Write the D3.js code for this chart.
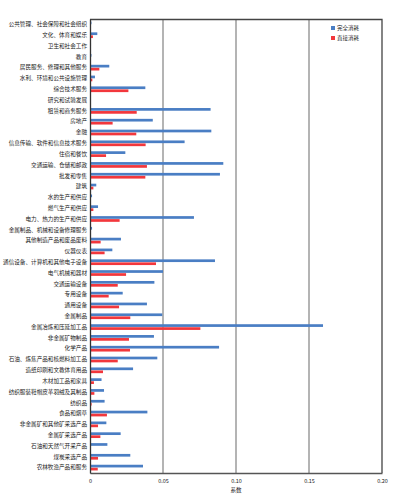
<!DOCTYPE html>
<html>
<head>
<meta charset="utf-8">
<script src="https://cdn.jsdelivr.net/npm/d3@7"></script>
<style>
  body { margin: 0; background: #fff; }
  text { font-family: "Noto Sans CJK SC", sans-serif; }
</style>
</head>
<body>
<svg id="vis" width="396" height="494"></svg>
<script>
// categories, top to bottom
const categories = [
  "公共管理、社会保障和社会组织", "文化、体育和娱乐", "卫生和社会工作", "教育",
  "居民服务、修理和其他服务", "水利、环境和公共设施管理", "综合技术服务", "研究和试验发展",
  "租赁和商务服务", "房地产", "金融", "信息传输、软件和信息技术服务", "住宿和餐饮",
  "交通运输、仓储和邮政", "批发和零售", "建筑", "水的生产和供应", "燃气生产和供应",
  "电力、热力的生产和供应", "金属制品、机械和设备修理服务", "其他制造产品和废品废料",
  "仪器仪表", "通信设备、计算机和其他电子设备", "电气机械和器材", "交通运输设备",
  "专用设备", "通用设备", "金属制品", "金属冶炼和压延加工品", "非金属矿物制品",
  "化学产品", "石油、炼焦产品和核燃料加工品", "造纸印刷和文教体育用品", "木材加工品和家具",
  "纺织服装鞋帽皮革羽绒及其制品", "纺织品", "食品和烟草", "非金属矿和其他矿采选产品",
  "金属矿采选产品", "石油和天然气开采产品", "煤炭采选产品", "农林牧渔产品和服务"
];

// 完全消耗
const totalValues = [
  0.001, 0.005, 0.0007, 0.001, 0.0132, 0.0034, 0.0379, 0,
  0.0826, 0.043, 0.0831, 0.0648, 0.0242, 0.0913, 0.089, 0.0043,
  0.0014, 0.0055, 0.0712, 0.0014, 0.0212, 0.0153, 0.0856, 0.05,
  0.0441, 0.0224, 0.039, 0.0495, 0.1596, 0.0438, 0.0884, 0.0461,
  0.0295, 0.0079, 0.0096, 0.01, 0.0393, 0.0112, 0.021, 0.0119,
  0.0276, 0.0363
];

// 直接消耗
const directValues = [
  0.0005, 0.002, 0.0003, 0.0004, 0.0064, 0.0016, 0.0263, 0,
  0.032, 0.0155, 0.0317, 0.0381, 0.011, 0.039, 0.0379, 0.0023,
  0.0005, 0.0023, 0.0203, 0.0005, 0.0073, 0.01, 0.0452, 0.0247,
  0.019, 0.0128, 0.0199, 0.0276, 0.0756, 0.0267, 0.0274, 0.019,
  0.0089, 0.0027, 0.003, 0.0011, 0.0116, 0.0055, 0.0071, 0.0003,
  0.0055, 0.0053
];

const seriesNames = ["完全消耗", "直接消耗"];
const xTicks = [0, 0.05, 0.10, 0.15, 0.20];
const xLabel = "系数";

const COLOURS = ["#4a7ec4", "#f2373c"];
const MARGINS = {top: 19, right: 14, bottom: 21, left: 90};
const width = 396, height = 494;

const svg = d3.select("#vis");

const x = d3.scaleLinear()
    .domain([0, 0.2])
    .range([MARGINS.left, width - MARGINS.right]);

const y = d3.scaleBand()
    .domain(categories)
    .range([MARGINS.top, height - MARGINS.bottom]);

const ySub = d3.scaleBand()
    .domain(seriesNames)
    .range([0, y.bandwidth()])
    .paddingOuter(0.85)
    .paddingInner(0.1);

// grid lines
svg.append("g")
    .selectAll("line")
    .data(xTicks.slice(1, -1))
    .enter()
    .append("line")
    .attr("x1", d => x(d)).attr("x2", d => x(d))
    .attr("y1", MARGINS.top).attr("y2", height - MARGINS.bottom)
    .attr("stroke", "#8c8c8c")
    .attr("stroke-width", 1.3);

// bars
const rows = categories.map((c, i) => ({cat: c, vals: [totalValues[i], directValues[i]]}));

const groups = svg.append("g")
    .selectAll("g")
    .data(rows)
    .enter()
    .append("g")
    .attr("transform", d => `translate(0, ${y(d.cat)})`);

groups.selectAll("rect")
    .data(d => d.vals.map((v, k) => ({name: seriesNames[k], v: v, k: k})))
    .enter()
    .append("rect")
    .attr("x", x(0))
    .attr("y", d => ySub(d.name))
    .attr("width", d => x(d.v) - x(0))
    .attr("height", ySub.bandwidth())
    .attr("fill", d => COLOURS[d.k]);

// frame: top and right
svg.append("path")
    .attr("d", `M${x(0)},${MARGINS.top + 0.5}H${x(0.2)}V${height - MARGINS.bottom}`)
    .attr("fill", "none")
    .attr("stroke", "#444")
    .attr("stroke-width", 1.3);

// x axis
const xAxis = d3.axisBottom(x)
    .tickValues(xTicks)
    .tickSize(0)
    .tickPadding(6)
    .tickFormat(d => d === 0 ? "0" : d3.format(".2f")(d));

const gx = svg.append("g")
    .attr("transform", `translate(0, ${height - MARGINS.bottom})`)
    .call(xAxis);
gx.select(".domain").attr("stroke", "#555").attr("stroke-width", 1.3);
gx.selectAll("text").attr("font-size", 5.5).attr("fill", "#222");

// y axis
const yAxis = d3.axisLeft(y)
    .tickSize(0)
    .tickPadding(3);

const gy = svg.append("g")
    .attr("transform", `translate(${MARGINS.left}, 0)`)
    .call(yAxis);
gy.select(".domain").attr("stroke", "#333").attr("stroke-width", 1.3);
gy.selectAll("text").attr("font-size", 5.6).attr("fill", "#222");

// x axis label
svg.append("text")
    .attr("x", x(0.1))
    .attr("y", height - 2)
    .attr("text-anchor", "middle")
    .attr("font-size", 5.5)
    .attr("fill", "#222")
    .text(xLabel);

// legend
const legend = svg.append("g")
    .attr("transform", `translate(331, 26)`);
seriesNames.forEach((name, k) => {
    legend.append("rect")
        .attr("x", 0).attr("y", k * 10)
        .attr("width", 4).attr("height", 4)
        .attr("fill", COLOURS[k]);
    legend.append("text")
        .attr("x", 6).attr("y", k * 10 + 4)
        .attr("font-size", 5.5)
        .attr("fill", "#222")
        .text(name);
});
</script>
</body>
</html>
